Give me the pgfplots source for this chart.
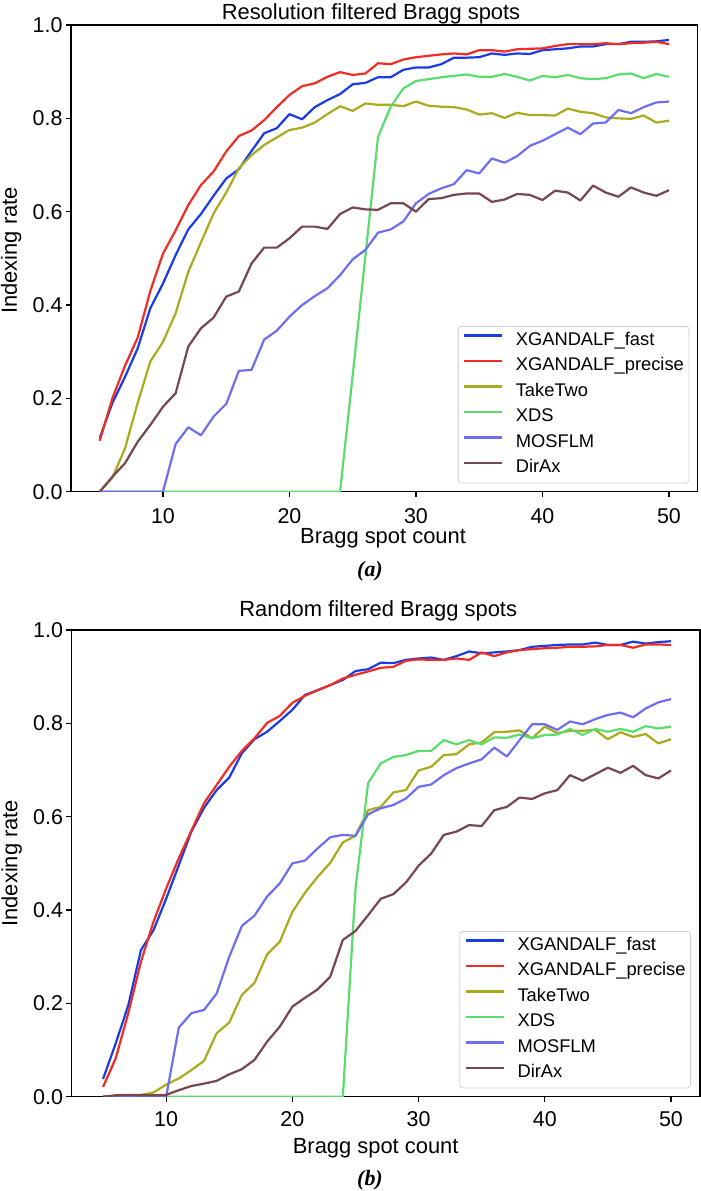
\documentclass[border=0pt]{standalone}
\usepackage{pgfplots}
\pgfplotsset{compat=1.18}
\usepackage{pgfplotstable}
\usepackage{fontspec}
\setmainfont{Liberation Sans}
\newfontfamily\capfont{Liberation Serif}

\definecolor{cfast}{RGB}{25,60,230}
\definecolor{cprec}{RGB}{240,45,35}
\definecolor{ctake}{RGB}{170,170,30}
\definecolor{cxds}{RGB}{90,220,110}
\definecolor{cmos}{RGB}{110,110,240}
\definecolor{cdir}{RGB}{120,70,80}

\pgfplotstableread{
x fast precise take xds mos dirax
5 0.115 0.109 0.000 0 0 0.000
6 0.190 0.200 0.030 0 0 0.032
7 0.246 0.270 0.093 0 0 0.061
8 0.307 0.330 0.190 0 0 0.107
9 0.393 0.430 0.279 0 0 0.143
10 0.446 0.510 0.321 0 0 0.182
11 0.507 0.560 0.382 0 0.102 0.211
12 0.562 0.614 0.471 0 0.138 0.311
13 0.595 0.657 0.534 0 0.121 0.350
14 0.634 0.686 0.596 0 0.161 0.373
15 0.671 0.729 0.641 0 0.188 0.418
16 0.691 0.762 0.693 0 0.259 0.429
17 0.730 0.774 0.721 0 0.261 0.489
18 0.768 0.796 0.743 0 0.326 0.523
19 0.779 0.824 0.759 0 0.345 0.523
20 0.809 0.850 0.775 0 0.375 0.543
21 0.798 0.869 0.780 0 0.400 0.568
22 0.824 0.875 0.791 0 0.419 0.568
23 0.839 0.889 0.809 0 0.436 0.563
24 0.852 0.899 0.826 0 0.464 0.595
25 0.873 0.893 0.816 0.250 0.498 0.609
26 0.876 0.896 0.832 0.505 0.518 0.605
27 0.888 0.918 0.829 0.760 0.555 0.604
28 0.888 0.916 0.829 0.825 0.562 0.618
29 0.904 0.926 0.826 0.864 0.579 0.618
30 0.909 0.931 0.836 0.880 0.618 0.600
31 0.909 0.934 0.827 0.884 0.638 0.627
32 0.916 0.937 0.825 0.888 0.650 0.629
33 0.930 0.939 0.824 0.891 0.659 0.636
34 0.930 0.937 0.819 0.894 0.689 0.639
35 0.931 0.946 0.808 0.889 0.682 0.639
36 0.939 0.946 0.811 0.889 0.714 0.621
37 0.936 0.943 0.801 0.895 0.705 0.626
38 0.939 0.948 0.812 0.889 0.719 0.638
39 0.938 0.949 0.807 0.881 0.741 0.636
40 0.946 0.950 0.807 0.891 0.752 0.625
41 0.948 0.955 0.806 0.888 0.766 0.645
42 0.950 0.959 0.821 0.893 0.780 0.641
43 0.954 0.959 0.814 0.886 0.766 0.624
44 0.954 0.959 0.811 0.884 0.789 0.656
45 0.959 0.961 0.802 0.886 0.791 0.641
46 0.959 0.959 0.800 0.894 0.818 0.632
47 0.964 0.961 0.799 0.896 0.811 0.652
48 0.964 0.962 0.806 0.886 0.824 0.641
49 0.965 0.964 0.791 0.895 0.834 0.634
50 0.968 0.959 0.795 0.889 0.836 0.646
}\tabA

\pgfplotstableread{
x fast precise take xds mos dirax
5 0.038 0.021 0.000 0 0 0.000
6 0.114 0.082 0.002 0 0 0.003
7 0.196 0.179 0.003 0 0 0.004
8 0.314 0.289 0.004 0 0 0.003
9 0.357 0.375 0.009 0 0 0.003
10 0.424 0.446 0.026 0 0 0.004
11 0.496 0.511 0.039 0 0.148 0.014
12 0.568 0.570 0.057 0 0.179 0.023
13 0.619 0.629 0.077 0 0.186 0.028
14 0.657 0.668 0.136 0 0.221 0.034
15 0.684 0.707 0.159 0 0.300 0.048
16 0.736 0.741 0.218 0 0.366 0.059
17 0.766 0.768 0.244 0 0.388 0.079
18 0.782 0.801 0.305 0 0.429 0.118
19 0.805 0.816 0.332 0 0.457 0.150
20 0.829 0.844 0.396 0 0.500 0.193
21 0.861 0.859 0.437 0 0.506 0.212
22 0.871 0.871 0.471 0 0.532 0.230
23 0.882 0.882 0.501 0 0.556 0.257
24 0.893 0.896 0.545 0 0.561 0.336
25 0.912 0.904 0.559 0.445 0.559 0.355
26 0.916 0.911 0.614 0.672 0.605 0.389
27 0.930 0.919 0.621 0.714 0.618 0.424
28 0.929 0.921 0.652 0.728 0.625 0.434
29 0.936 0.934 0.657 0.732 0.639 0.459
30 0.939 0.937 0.699 0.741 0.664 0.495
31 0.941 0.936 0.707 0.741 0.669 0.521
32 0.936 0.936 0.732 0.764 0.689 0.561
33 0.944 0.939 0.734 0.755 0.704 0.568
34 0.954 0.936 0.755 0.764 0.714 0.582
35 0.950 0.952 0.759 0.755 0.723 0.580
36 0.952 0.944 0.781 0.770 0.748 0.614
37 0.954 0.952 0.782 0.769 0.729 0.621
38 0.957 0.957 0.785 0.776 0.764 0.641
39 0.964 0.959 0.768 0.768 0.798 0.638
40 0.966 0.961 0.793 0.775 0.798 0.650
41 0.968 0.962 0.779 0.776 0.786 0.657
42 0.969 0.964 0.784 0.788 0.804 0.689
43 0.969 0.964 0.784 0.775 0.798 0.677
44 0.973 0.965 0.786 0.788 0.809 0.691
45 0.968 0.968 0.766 0.782 0.818 0.705
46 0.968 0.968 0.781 0.788 0.823 0.694
47 0.975 0.962 0.771 0.782 0.813 0.709
48 0.971 0.969 0.777 0.794 0.832 0.689
49 0.974 0.969 0.757 0.789 0.845 0.682
50 0.976 0.968 0.766 0.793 0.852 0.699
}\tabB

\pgfplotsset{
  panel/.style={
    scale only axis,
    height=466.7bp,
    ymin=0, ymax=1,
    xtick={10,20,30,40,50},
    ytick={0,0.2,0.4,0.6,0.8,1},
    tick align=outside,
    xtick pos=bottom, ytick pos=left,
    major tick length=5bp,
    every tick/.style={black, line width=1.1bp},
    axis line style={black, line width=1.3bp},
    /pgf/number format/assume math mode=true,
    ticklabel style={font=\fontsize{21.5}{26}\selectfont},
    yticklabel style={/pgf/number format/.cd, fixed, fixed zerofill, precision=1},
    label style={font=\fontsize{22}{26}\selectfont},
    every axis title shift=0pt,
    title style={font=\fontsize{22}{26}\selectfont},
    legend cell align=left,
    legend style={
      font=\fontsize{18.4}{22}\selectfont,
      anchor=south east,
      draw=black!18, line width=0.8bp, rounded corners=3bp,
      fill=white, fill opacity=0.85, text opacity=1,
      inner xsep=5bp, inner ysep=6bp,
      row sep=8.5bp, column sep=0bp,
      nodes={inner sep=0bp, text height=13bp, text depth=4bp},
    },
    legend image code/.code={\draw[#1] (0bp,5.5bp) -- (38bp,5.5bp); \path (50.5bp,5.5bp);},
    every axis plot/.append style={line width=2.2bp, line join=round},
  }
}

\begin{document}
\begin{tikzpicture}
\useasboundingbox (0bp,0bp) rectangle (701bp,-1191bp);

\begin{axis}[panel,
  at={(71bp,-491.7bp)}, anchor=south west,
  width=626.7bp,
  xmin=2.73, xmax=52.27,
  xticklabel style={yshift=-8bp},
  title={Resolution filtered Bragg spots},
  title style={at={(axis description cs:0.4787,1)}, anchor=base, yshift=6bp},
  xlabel={Bragg spot count},
  xlabel style={at={(axis description cs:0.498,0)}, anchor=base, yshift=-52bp},
  ylabel={Indexing rate},
  ylabel style={at={(axis description cs:-0.0862,0.5168)}, anchor=base},
  legend style={at={(axis description cs:0.9866,0.018)}},
]
\addplot[cfast] table[x=x,y=fast]{\tabA};
\addlegendentry{XGANDALF\_fast}
\addplot[cprec] table[x=x,y=precise]{\tabA};
\addlegendentry{XGANDALF\_precise}
\addplot[ctake] table[x=x,y=take]{\tabA};
\addlegendentry{TakeTwo}
\addplot[cxds] table[x=x,y=xds]{\tabA};
\addlegendentry{XDS}
\addplot[cmos] table[x=x,y=mos]{\tabA};
\addlegendentry{MOSFLM}
\addplot[cdir] table[x=x,y=dirax]{\tabA};
\addlegendentry{DirAx}
\end{axis}
\node[font={\capfont\fontsize{22}{26}\selectfont\bfseries\itshape}] at (370bp,-571bp) {(a)};

\begin{axis}[panel,
  at={(71.5bp,-1096.7bp)}, anchor=south west,
  width=628.5bp,
  xmin=2.5, xmax=52.3,
  xticklabel style={yshift=-6bp},
  title={Random filtered Bragg spots},
  title style={at={(axis description cs:0.488,1)}, anchor=base, yshift=14bp},
  xlabel={Bragg spot count},
  xlabel style={at={(axis description cs:0.484,0)}, anchor=base, yshift=-56.6bp},
  ylabel={Indexing rate},
  ylabel style={at={(axis description cs:-0.0862,0.5003)}, anchor=base},
  legend style={at={(axis description cs:0.9857,0.018)}},
]
\addplot[cfast] table[x=x,y=fast]{\tabB};
\addlegendentry{XGANDALF\_fast}
\addplot[cprec] table[x=x,y=precise]{\tabB};
\addlegendentry{XGANDALF\_precise}
\addplot[ctake] table[x=x,y=take]{\tabB};
\addlegendentry{TakeTwo}
\addplot[cxds] table[x=x,y=xds]{\tabB};
\addlegendentry{XDS}
\addplot[cmos] table[x=x,y=mos]{\tabB};
\addlegendentry{MOSFLM}
\addplot[cdir] table[x=x,y=dirax]{\tabB};
\addlegendentry{DirAx}
\end{axis}
\node[font={\capfont\fontsize{22}{26}\selectfont\bfseries\itshape}] at (370bp,-1180bp) {(b)};
\end{tikzpicture}
\end{document}
